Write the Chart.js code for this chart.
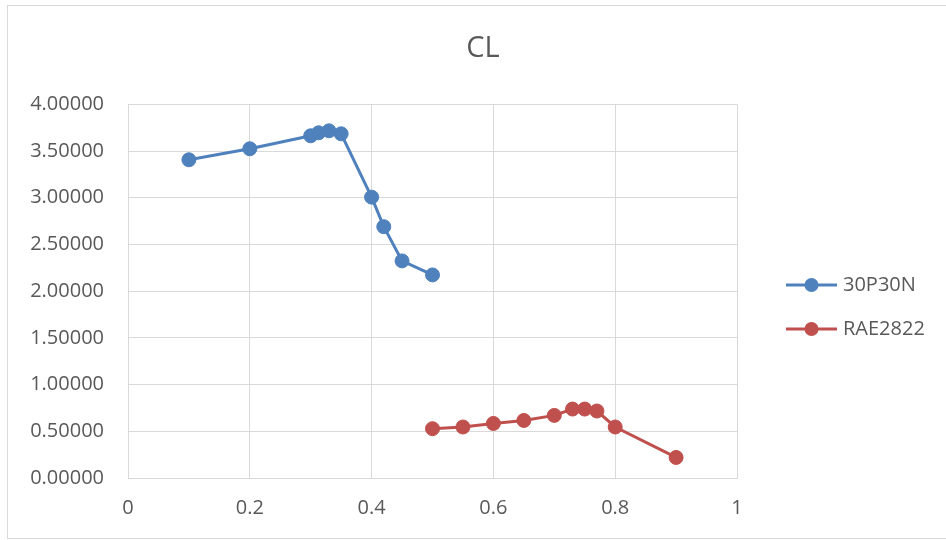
<!DOCTYPE html>
<html>
<head>
<meta charset="utf-8">
<script src="https://cdn.jsdelivr.net/npm/chart.js@4"></script>
<style>
  html, body { margin: 0; padding: 0; background: #fff; }
  #wrap { width: 946px; height: 540px; position: relative; }
</style>
</head>
<body>
<div id="wrap"><canvas id="clChart" width="946" height="540"></canvas></div>
<script>
// values
const seriesNames = ['30P30N', 'RAE2822'];
const seriesColors = ['#4F81BD', '#C0504D'];

const blueX = [0.1, 0.2, 0.3, 0.313, 0.33, 0.35, 0.4, 0.42, 0.45, 0.5];
const blueY = [3.406, 3.524, 3.663, 3.695, 3.716, 3.684, 3.006, 2.69, 2.324, 2.174];

const redX = [0.5, 0.55, 0.6, 0.65, 0.7, 0.73, 0.75, 0.77, 0.8, 0.9];
const redY = [0.528, 0.546, 0.584, 0.616, 0.67, 0.738, 0.738, 0.717, 0.546, 0.22];

const xTicks = [0, 0.2, 0.4, 0.6, 0.8, 1];
const yTicks = [0, 0.5, 1, 1.5, 2, 2.5, 3, 3.5, 4];

const toPoints = (xs, ys) => xs.map((x, i) => ({ x: x, y: ys[i] }));

const FONT = '"Open Sans", "Liberation Sans", sans-serif';
const TEXT = '#595959';
const GRID = '#d9d9d9';

// frame round the chart + legend on the right, Excel style
const frameAndLegend = {
  id: 'frameAndLegend',
  afterDraw(chart) {
    const { ctx } = chart;
    ctx.save();
    ctx.strokeStyle = GRID;
    ctx.lineWidth = 1;
    ctx.strokeRect(7.5, 5.5, 1000, 533);

    const rows = [285, 329];
    chart.data.datasets.forEach((ds, i) => {
      const y = rows[i];
      ctx.strokeStyle = ds.borderColor;
      ctx.lineWidth = 3;
      ctx.beginPath();
      ctx.moveTo(786, y);
      ctx.lineTo(837, y);
      ctx.stroke();
      ctx.fillStyle = ds.borderColor;
      ctx.beginPath();
      ctx.arc(811.5, y, 7, 0, Math.PI * 2);
      ctx.fill();
      ctx.font = '20px ' + FONT;
      ctx.fillStyle = TEXT;
      ctx.textAlign = 'left';
      ctx.textBaseline = 'middle';
      ctx.fillText(ds.label, 843, y);
    });
    ctx.restore();
  },
};

const makeDataset = (i, xs, ys) => ({
  label: seriesNames[i],
  data: toPoints(xs, ys),
  showLine: true,
  borderColor: seriesColors[i],
  backgroundColor: seriesColors[i],
  borderWidth: 3,
  pointRadius: 7,
  pointBorderWidth: 1,
  pointBackgroundColor: seriesColors[i],
  pointBorderColor: seriesColors[i],
});

const ctx = document.getElementById('clChart').getContext('2d');
new Chart(ctx, {
  type: 'scatter',
  data: {
    datasets: [makeDataset(0, blueX, blueY), makeDataset(1, redX, redY)],
  },
  options: {
    responsive: false,
    animation: false,
    layout: { padding: { left: 20, right: 0, top: 0, bottom: 0 } },
    plugins: {
      legend: { display: false },
      tooltip: { enabled: false },
      title: {
        display: true,
        text: 'CL',
        color: TEXT,
        font: { family: FONT, size: 29, weight: 'normal' },
        padding: { top: 31, bottom: 38.5 },
      },
    },
    scales: {
      x: {
        type: 'linear',
        min: xTicks[0],
        max: xTicks[xTicks.length - 1],
        afterBuildTicks(scale) {
          scale.ticks = xTicks.map((v) => ({ value: v }));
        },
        afterFit(scale) { scale.height = 62; },
        grid: { color: GRID, drawTicks: false },
        border: { color: GRID },
        ticks: {
          color: TEXT,
          font: { family: FONT, size: 20 },
          padding: 18,
          callback: (v) => String(Math.round(v * 10) / 10),
        },
      },
      y: {
        type: 'linear',
        min: yTicks[0],
        max: yTicks[yTicks.length - 1],
        afterBuildTicks(scale) {
          scale.ticks = yTicks.map((v) => ({ value: v }));
        },
        afterFit(scale) { scale.width = 108; },
        grid: { color: GRID, drawTicks: false },
        border: { color: GRID },
        ticks: {
          color: TEXT,
          font: { family: FONT, size: 20 },
          padding: 24,
          callback: (v) => Number(v).toFixed(5),
        },
      },
      // empty right-hand axis that only reserves room for the legend
      yRight: {
        type: 'linear',
        position: 'right',
        min: 0,
        max: 4,
        afterFit(scale) { scale.width = 209; },
        grid: { display: false, drawTicks: false },
        border: { display: false },
        ticks: { display: false },
      },
    },
  },
  plugins: [frameAndLegend],
});
</script>
</body>
</html>
